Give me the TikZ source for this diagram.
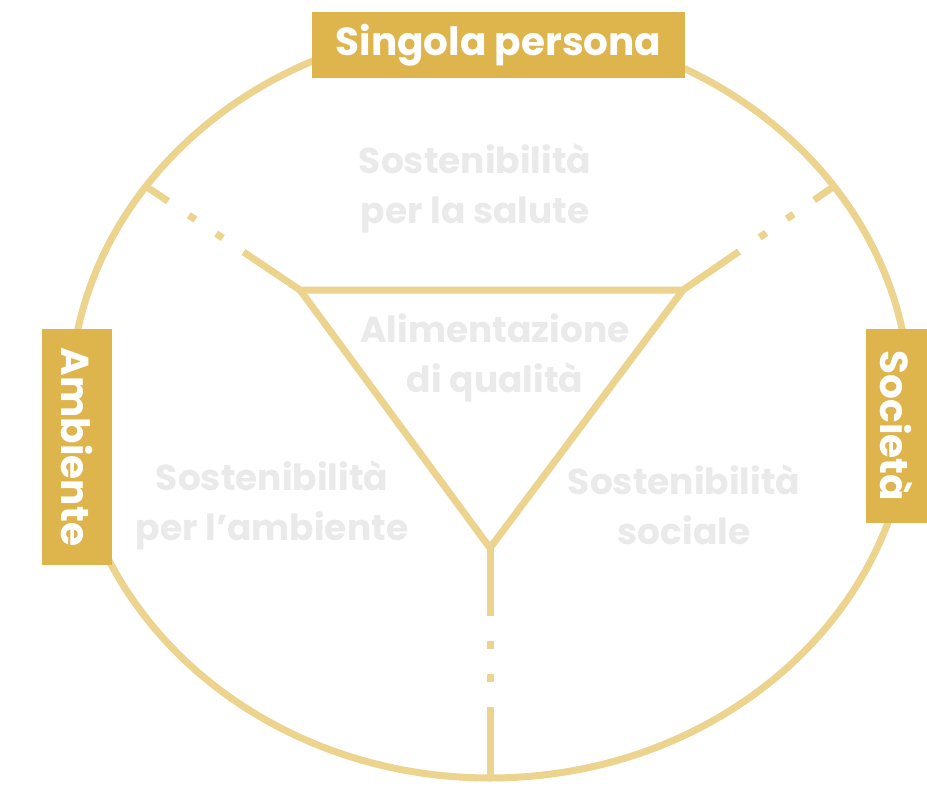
\documentclass[tikz,border=0pt]{standalone}
\usepackage{fontspec}
\setmainfont{Poppins}
\usetikzlibrary{calc}
\definecolor{gold}{RGB}{222, 181, 76}
\definecolor{lightgold}{RGB}{236, 211, 142}
\definecolor{ghost}{RGB}{234, 234, 234}
\tikzset{
    labelbox/.style={rectangle, fill=gold, text=white, font=\fontsize{39}{44}\selectfont\bfseries, inner sep=0pt, align=center},
    ring/.style={lightgold, line width=7pt},
    spoke/.style={ring, dash pattern=on 68pt off 25pt on 8pt off 25pt on 8pt off 25pt on 400pt},
    faint/.style={text=ghost, font=\fontsize{36}{50}\selectfont\bfseries, align=center}
}

\begin{document}
\begin{tikzpicture}[x=1pt, y=-1pt]
        \fill[white] (0,0) rectangle (927,792);
        \useasboundingbox (0,0) rectangle (927,792);

        \coordinate (o) at (490,402);
        \coordinate (tl) at (300,290);
        \coordinate (tr) at (683,290);
        \coordinate (bt) at (490,548);
        \coordinate (pl) at ([shift={(215:420 and 376)}]o);
        \coordinate (pr) at ([shift={(325:420 and 376)}]o);
        \coordinate (pb) at ([shift={(90:420 and 376)}]o);

        \draw[ring] (o) ellipse [x radius=420, y radius=376];
        \draw[ring] (tl) -- (tr) -- (bt) -- cycle;

        \draw[spoke] (tl) -- (pl);
        \draw[spoke] (tr) -- (pr);
        \draw[spoke] (bt) -- (pb);

        \node[faint] (health) at (475,188) {Sostenibilità\\per la salute};
        \node[faint] (quality) at (495,358) {Alimentazione\\di qualità};
        \node[faint] (env) at (272,505) {Sostenibilità\\per l'ambiente};
        \node[faint] (soc) at (684,505) {Sostenibilità\\sociale};

        \node[labelbox, minimum width=373pt, minimum height=66pt] (persona) at (498.5,45) {Singola persona};
        \node[labelbox, rotate=-90, minimum width=236pt, minimum height=70pt] (ambiente) at (77,447) {Ambiente};
        \node[labelbox, rotate=-90, minimum width=194pt, minimum height=62pt] (societa) at (897,426) {Società};
    \end{tikzpicture}
\end{document}
